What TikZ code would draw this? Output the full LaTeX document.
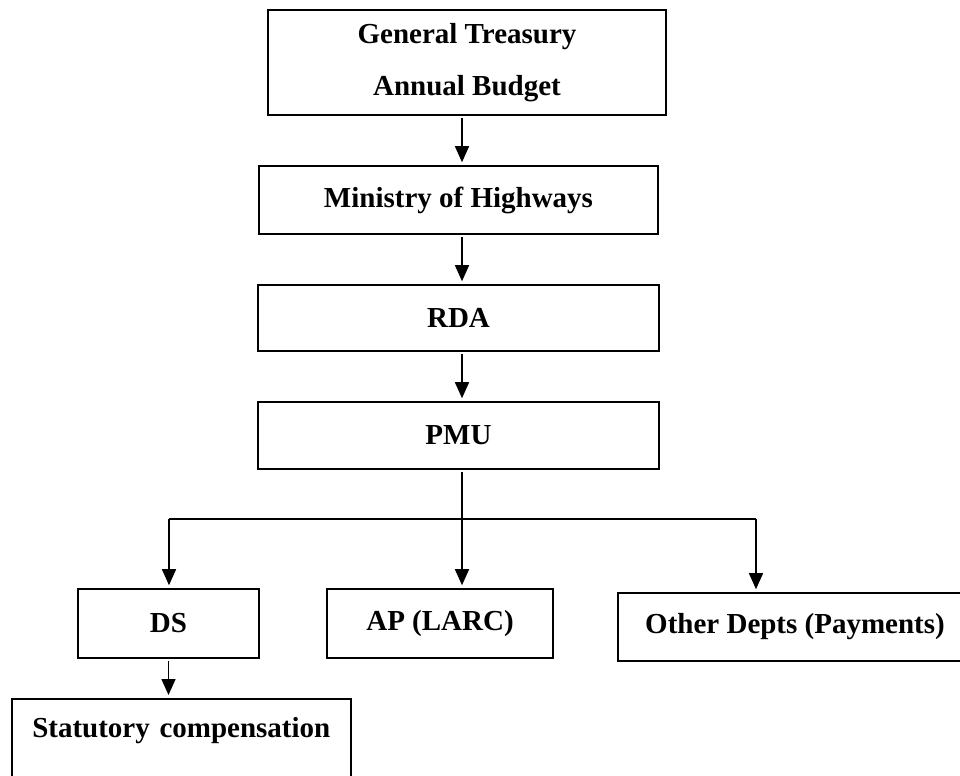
\documentclass[tikz,border=0pt]{standalone}
\usepackage{fontspec}
\setmainfont{Liberation Serif}
\usetikzlibrary{arrows.meta}
\begin{document}
\begin{tikzpicture}[
    hwBox/.style={draw,line width=0.9pt,inner sep=0pt,align=center,
        font=\fontsize{16.5}{20}\selectfont\bfseries},
    hwLine/.style={line width=0.85pt},
    hwArrow/.style={line width=0.85pt,-{Triangle[length=0.32cm,width=0.28cm]},
        shorten <=0.05cm,shorten >=0.06cm},
]
\clip (0,0) rectangle (19.2,-15.5);
\useasboundingbox (0,0) rectangle (19.2,-15.5);
% Funding chain
\node[hwBox,minimum width=7.96cm,minimum height=2.1cm] (treasury) at (9.34,-1.25)
    {General Treasury\\[0.335cm]Annual Budget};
\node[hwBox,minimum width=7.98cm,minimum height=1.36cm] (ministry) at (9.17,-4.0) {Ministry of Highways};
\node[hwBox,minimum width=8.02cm,minimum height=1.32cm] (rda) at (9.17,-6.36) {RDA};
\node[hwBox,minimum width=8.02cm,minimum height=1.34cm] (pmu) at (9.17,-8.71) {PMU};
% Paying bodies
\node[hwBox,minimum width=3.62cm,minimum height=1.38cm] (ds) at (3.37,-12.47) {DS};
\node[hwBox,minimum width=4.52cm,minimum height=1.38cm] (ap) at (8.80,-12.47) {AP (LARC)};
\node[hwBox,minimum width=7.08cm,minimum height=1.36cm] (other) at (15.9,-12.54) {Other Depts (Payments)};
\node[hwBox,anchor=north west,text width=6.78cm,text height=0.78cm,text depth=1.4cm] (stat)
    at (0.22,-13.96) {Statutory compensation};
% Connectors
\coordinate (spine) at (9.24,0);
\coordinate (forkL) at (3.38,-10.38);
\coordinate (forkR) at (15.12,-10.38);
\draw[hwArrow] (treasury.south -| spine) -- (ministry.north -| spine);
\draw[hwArrow] (ministry.south -| spine) -- (rda.north -| spine);
\draw[hwArrow] (rda.south -| spine) -- (pmu.north -| spine);
\draw[hwArrow] (pmu.south -| spine) -- (ap.north -| spine);
\draw[hwLine] (forkL) -- (forkR);
\draw[hwArrow,shorten <=0pt] (forkL) -- (forkL |- ds.north);
\draw[hwArrow,shorten <=0pt] (forkR) -- (forkR |- other.north);
\draw[hwArrow] (ds.south) -- (ds.south |- stat.north);
\end{tikzpicture}
\end{document}
